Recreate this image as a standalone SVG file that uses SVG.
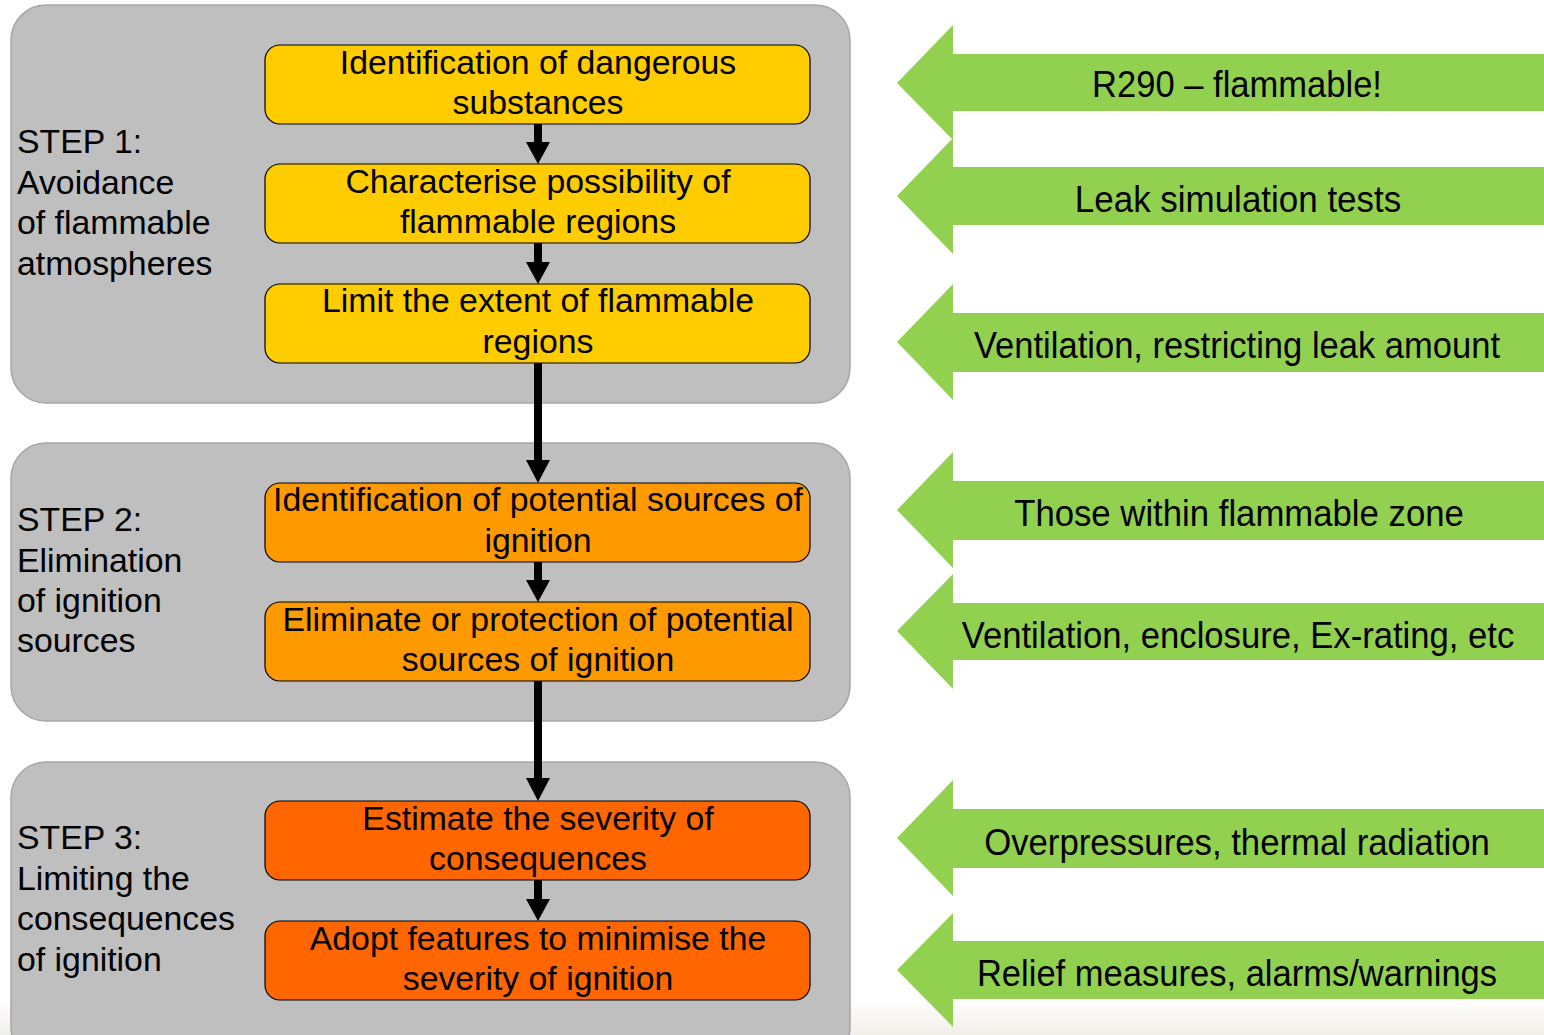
<svg xmlns="http://www.w3.org/2000/svg" width="1544" height="1035" viewBox="0 0 1544 1035">
<defs>
<linearGradient id="fade" x1="0" y1="0" x2="0" y2="1"><stop offset="0" stop-color="#ffffff"/><stop offset="1" stop-color="#f1eee9"/></linearGradient>
<style>
.panel{fill:#bfbfbf;stroke:#a6a6a6;stroke-width:1.5}
.box{stroke:#000;stroke-width:1.2}
.y{fill:#ffcc00}.o{fill:#ff9900}.r{fill:#ff6600}
.t{font-family:"Liberation Sans",Arial,sans-serif;font-size:33.8px;fill:#000}
.c{text-anchor:middle}
.g{fill:#92d050}
.gt{font-family:"Liberation Sans Narrow","Liberation Sans",Arial,sans-serif;font-size:37px;fill:#000;text-anchor:middle}
.ar{fill:#000}
</style>
</defs>
<rect x="0" y="1000" width="1544" height="35" fill="url(#fade)"/>
<g id="panel1"><rect class="panel" x="11" y="5" width="839" height="398" rx="35"/>
<text class="t" x="17"><tspan x="17" y="153">STEP 1:</tspan><tspan x="17" y="194">Avoidance</tspan><tspan x="17" y="234">of flammable</tspan><tspan x="17" y="275">atmospheres</tspan></text></g>
<g id="panel2"><rect class="panel" x="11" y="443" width="839" height="278" rx="35"/>
<text class="t" x="17"><tspan x="17" y="531">STEP 2:</tspan><tspan x="17" y="572">Elimination</tspan><tspan x="17" y="612">of ignition</tspan><tspan x="17" y="652">sources</tspan></text></g>
<g id="panel3"><rect class="panel" x="11" y="762" width="839" height="300" rx="35"/>
<text class="t" x="17"><tspan x="17" y="849">STEP 3:</tspan><tspan x="17" y="890">Limiting the</tspan><tspan x="17" y="930">consequences</tspan><tspan x="17" y="971">of ignition</tspan></text></g>
<g id="connectors">
<rect class="ar" x="534" y="124" width="8" height="20"/><polygon class="ar" points="526,142 550,142 538,164"/>
<rect class="ar" x="534" y="243" width="8" height="21"/><polygon class="ar" points="526,262 550,262 538,284"/>
<rect class="ar" x="534" y="363" width="8" height="100"/><polygon class="ar" points="526,460 550,460 538,483"/>
<rect class="ar" x="534" y="562" width="8" height="20"/><polygon class="ar" points="526,580 550,580 538,602"/>
<rect class="ar" x="534" y="681" width="8" height="100"/><polygon class="ar" points="526,778 550,778 538,801"/>
<rect class="ar" x="534" y="880" width="8" height="21"/><polygon class="ar" points="526,899 550,899 538,921"/>
</g>
<g id="box1"><rect class="box y" x="265" y="45" width="545" height="79" rx="15"/><text class="t c"><tspan x="538" y="74">Identification of dangerous</tspan><tspan x="538" y="114">substances</tspan></text></g>
<g id="box2"><rect class="box y" x="265" y="164" width="545" height="79" rx="15"/><text class="t c"><tspan x="538" y="193">Characterise possibility of</tspan><tspan x="538" y="233">flammable regions</tspan></text></g>
<g id="box3"><rect class="box y" x="265" y="284" width="545" height="79" rx="15"/><text class="t c"><tspan x="538" y="312">Limit the extent of flammable</tspan><tspan x="538" y="353">regions</tspan></text></g>
<g id="box4"><rect class="box o" x="265" y="483" width="545" height="79" rx="15"/><text class="t c"><tspan x="538" y="511">Identification of potential sources of</tspan><tspan x="538" y="552">ignition</tspan></text></g>
<g id="box5"><rect class="box o" x="265" y="602" width="545" height="79" rx="15"/><text class="t c"><tspan x="538" y="631">Eliminate or protection of potential</tspan><tspan x="538" y="671">sources of ignition</tspan></text></g>
<g id="box6"><rect class="box r" x="265" y="801" width="545" height="79" rx="15"/><text class="t c"><tspan x="538" y="830">Estimate the severity of</tspan><tspan x="538" y="870">consequences</tspan></text></g>
<g id="box7"><rect class="box r" x="265" y="921" width="545" height="79" rx="15"/><text class="t c"><tspan x="538" y="950">Adopt features to minimise the</tspan><tspan x="538" y="990">severity of ignition</tspan></text></g>
<g id="g1"><polygon class="g" points="897,83 953,25 953,54 1544,54 1544,111 953,111 953,140"/><text class="gt" transform="translate(1237,97) scale(0.85,1)" x="0" y="0" textLength="341" lengthAdjust="spacingAndGlyphs">R290 – flammable!</text></g>
<g id="g2"><polygon class="g" points="897,196 953,138 953,167 1544,167 1544,225 953,225 953,254"/><text class="gt" transform="translate(1238,212) scale(0.85,1)" x="0" y="0" textLength="384" lengthAdjust="spacingAndGlyphs">Leak simulation tests</text></g>
<g id="g3"><polygon class="g" points="897,342 953,284 953,313 1544,313 1544,372 953,372 953,400"/><text class="gt" transform="translate(1237,358) scale(0.85,1)" x="0" y="0" textLength="619" lengthAdjust="spacingAndGlyphs">Ventilation, restricting leak amount</text></g>
<g id="g4"><polygon class="g" points="897,510 953,452 953,481 1544,481 1544,540 953,540 953,568"/><text class="gt" transform="translate(1239,526) scale(0.85,1)" x="0" y="0" textLength="529" lengthAdjust="spacingAndGlyphs">Those within flammable zone</text></g>
<g id="g5"><polygon class="g" points="897,631 953,574 953,603 1544,603 1544,660 953,660 953,689"/><text class="gt" transform="translate(1238,648) scale(0.85,1)" x="0" y="0" textLength="650" lengthAdjust="spacingAndGlyphs">Ventilation, enclosure, Ex-rating, etc</text></g>
<g id="g6"><polygon class="g" points="897,838 953,780 953,809 1544,809 1544,868 953,868 953,896"/><text class="gt" transform="translate(1237,855) scale(0.85,1)" x="0" y="0" textLength="595" lengthAdjust="spacingAndGlyphs">Overpressures, thermal radiation</text></g>
<g id="g7"><polygon class="g" points="897,970 953,913 953,941 1544,941 1544,999 953,999 953,1027"/><text class="gt" transform="translate(1237,986) scale(0.85,1)" x="0" y="0" textLength="612" lengthAdjust="spacingAndGlyphs">Relief measures, alarms/warnings</text></g>
</svg>
